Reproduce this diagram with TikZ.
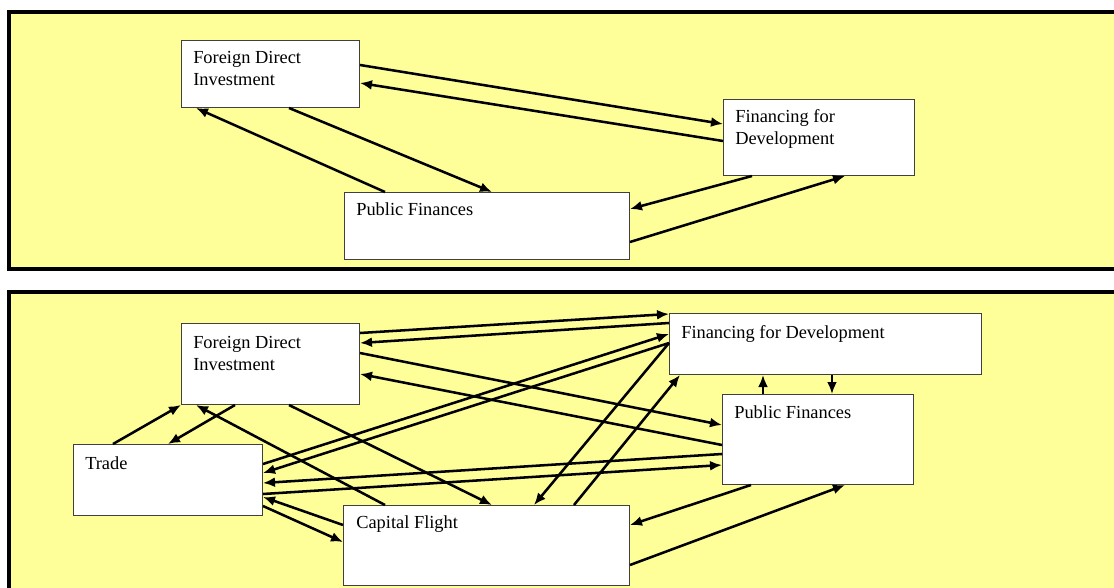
\documentclass[tikz,border=0pt]{standalone}
\usepackage{fontspec}
\setmainfont{Liberation Serif}
\usetikzlibrary{arrows.meta}
\definecolor{panelyellow}{HTML}{FFFF99}
\definecolor{boxedge}{HTML}{404040}
\tikzset{>={Latex[length=9pt,width=7.5pt]}}
\tikzset{
  panel/.style={line width=3pt, draw=black, fill=panelyellow},
  box/.style={draw=boxedge, line width=0.75pt, fill=white, anchor=north west, inner sep=0pt},
  boxtext/.style={anchor=base west, inner sep=0pt, align=left, font=\fontsize{13.8}{16.5}\selectfont},
  link/.style={->, line width=1.9pt}
}

\begin{document}
\begin{tikzpicture}[x=0.75pt, y=-0.75pt]
  \useasboundingbox (0,0) rectangle (1114,588);
  \clip (0,0) rectangle (1114,588);

  % upper panel
  \draw[panel] (8.5,12) rectangle (1130,269);
  \node[box, minimum width=133.5pt, minimum height=50.25pt] (fdiA) at (181,40) {};
  \node[box, minimum width=143.25pt, minimum height=57pt] (ffdA) at (723,99) {};
  \node[box, minimum width=213.75pt, minimum height=50.25pt] (pfA) at (344,192) {};
  \node[boxtext] (fdiA-t) at ([shift={(12,46)}]fdiA.north west) {Foreign Direct\\Investment};
  \node[boxtext] (ffdA-t) at ([shift={(12,46)}]ffdA.north west) {Financing for\\Development};
  \node[boxtext] (pfA-t) at ([shift={(12,24)}]pfA.north west) {Public Finances};

  \draw[link] ([shift={(0,25)}]fdiA.north east) -- ([shift={(0,25)}]ffdA.north west);
  \draw[link] ([shift={(0,42)}]ffdA.north west) -- ([shift={(0,43)}]fdiA.north east);
  \draw[link] ([shift={(108,0)}]fdiA.south west) -- ([shift={(148,0)}]pfA.north west);
  \draw[link] ([shift={(41,0)}]pfA.north west) -- ([shift={(15,0)}]fdiA.south west);
  \draw[link] ([shift={(29,0)}]ffdA.south west) -- ([shift={(0,17)}]pfA.north east);
  \draw[link] ([shift={(0,50)}]pfA.north east) -- ([shift={(122,0)}]ffdA.south west);

  % lower panel
  \draw[panel] (8.5,292) rectangle (1130,620);
  \node[box, minimum width=133.5pt, minimum height=60.75pt] (fdiB) at (181,323) {};
  \node[box, minimum width=141.75pt, minimum height=53.25pt] (tradeB) at (73,444) {};
  \node[box, minimum width=214.5pt, minimum height=60pt] (cfB) at (343,505) {};
  \node[box, minimum width=234pt, minimum height=45.75pt] (ffdB) at (669,313) {};
  \node[box, minimum width=143.25pt, minimum height=67.5pt] (pfB) at (722,394) {};
  \node[boxtext] (fdiB-t) at ([shift={(12,47)}]fdiB.north west) {Foreign Direct\\Investment};
  \node[boxtext] (tradeB-t) at ([shift={(12,25)}]tradeB.north west) {Trade};
  \node[boxtext] (cfB-t) at ([shift={(13,23)}]cfB.north west) {Capital Flight};
  \node[boxtext] (ffdB-t) at ([shift={(12,25)}]ffdB.north west) {Financing for Development};
  \node[boxtext] (pfB-t) at ([shift={(12,24)}]pfB.north west) {Public Finances};

  % FDI and the right-hand boxes
  \draw[link] ([shift={(0,10)}]fdiB.north east) -- ([shift={(0,1)}]ffdB.north west);
  \draw[link] ([shift={(0,10)}]ffdB.north west) -- ([shift={(0,20)}]fdiB.north east);
  \draw[link] ([shift={(0,30)}]fdiB.north east) -- ([shift={(0,31)}]pfB.north west);
  \draw[link] ([shift={(0,51)}]pfB.north west) -- ([shift={(0,51)}]fdiB.north east);
  % Trade and the right-hand boxes
  \draw[link] ([shift={(0,20)}]tradeB.north east) -- ([shift={(0,21)}]ffdB.north west);
  \draw[link] ([shift={(0,30)}]ffdB.north west) -- ([shift={(0,29)}]tradeB.north east);
  \draw[link] ([shift={(0,60)}]pfB.north west) -- ([shift={(0,39)}]tradeB.north east);
  \draw[link] ([shift={(0,50)}]tradeB.north east) -- ([shift={(0,71)}]pfB.north west);
  % Capital Flight
  \draw[link] ([shift={(42,0)}]cfB.north west) -- ([shift={(15,0)}]fdiB.south west);
  \draw[link] ([shift={(108,0)}]fdiB.south west) -- ([shift={(149,0)}]cfB.north west);
  \draw[link] ([shift={(0,20)}]cfB.north west) -- ([shift={(0,53)}]tradeB.north east);
  \draw[link] ([shift={(0,62)}]tradeB.north east) -- ([shift={(0,37)}]cfB.north west);
  \draw[link] ([shift={(0,30)}]ffdB.north west) -- ([shift={(191,0)}]cfB.north west);
  \draw[link] ([shift={(231,0)}]cfB.north west) -- ([shift={(11,0)}]ffdB.south west);
  \draw[link] ([shift={(29,0)}]pfB.south west) -- ([shift={(0,20)}]cfB.north east);
  \draw[link] ([shift={(0,60)}]cfB.north east) -- ([shift={(123,0)}]pfB.south west);
  % Financing for Development and Public Finances
  \draw[link] ([shift={(41,0)}]pfB.north west) -- ([shift={(94,0)}]ffdB.south west);
  \draw[link] ([shift={(163,0)}]ffdB.south west) -- ([shift={(110,0)}]pfB.north west);
  % Trade and FDI
  \draw[link] ([shift={(40,0)}]tradeB.north west) -- (fdiB.south west);
  \draw[link] ([shift={(54,0)}]fdiB.south west) -- ([shift={(95,0)}]tradeB.north west);
\end{tikzpicture}
\end{document}
